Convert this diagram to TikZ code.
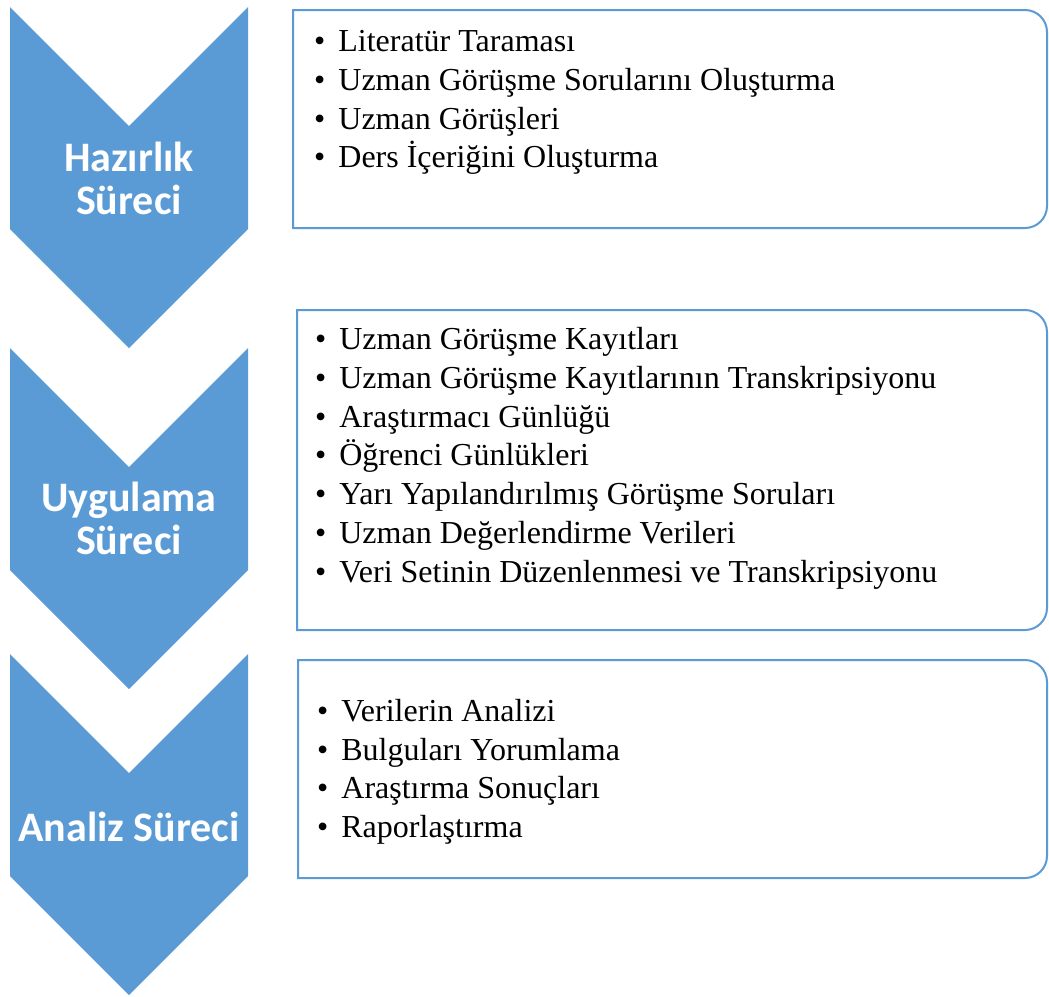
\documentclass[tikz,border=0pt]{standalone}
\usepackage{fontspec}
\setmainfont{Liberation Serif}
\newfontfamily\chevfont{Carlito}
\definecolor{accent}{HTML}{5B9BD5}
\tikzset{
  chevron/.style={fill=accent, draw=none},
  chevlabel/.style={text=white, font=\chevfont\bfseries\fontsize{42}{43}\selectfont, align=center, inner sep=0pt},
  listbox/.style={draw=accent, line width=2pt, fill=white},
  item/.style={anchor=base west, inner sep=0pt, font=\fontsize{32}{38}\selectfont},
}
\newcommand{\blt}{\textbullet\hspace{13pt}}
\begin{document}
\begin{tikzpicture}[x=1pt,y=1pt]
\useasboundingbox (0,0) rectangle (1049,-996);
% chevrons
\foreach \T/\nm in {7/c1,348/c2,654/c3}{
  \fill[chevron] (10,-\T) -- (129,-\T-119) -- (248,-\T) -- (248,-\T-222) -- (129,-\T-341) -- (10,-\T-222) -- cycle;
}
\node[chevlabel] (h1) at (129,-178) {Hazırlık\\Süreci};
\node[chevlabel] (h2) at (129,-518) {Uygulama\\Süreci};
\node[chevlabel] (h3) at (129,-827) {Analiz Süreci};
% boxes
\draw[listbox] (293,-10) -- (1025,-10) arc[start angle=90,end angle=0,radius=22] -- (1047,-206) arc[start angle=0,end angle=-90,radius=22] -- (293,-228) -- cycle;
\draw[listbox] (297,-310) -- (1025,-310) arc[start angle=90,end angle=0,radius=22] -- (1047,-608) arc[start angle=0,end angle=-90,radius=22] -- (297,-630) -- cycle;
\draw[listbox] (298,-660) -- (1025,-660) arc[start angle=90,end angle=0,radius=22] -- (1047,-856) arc[start angle=0,end angle=-90,radius=22] -- (298,-878) -- cycle;
% box 1 items
\node[item] (a1) at (314,-51) {\blt Literatür Taraması};
\node[item] (a2) at (314,-90) {\blt Uzman Görüşme Sorularını Oluşturma};
\node[item] (a3) at (314,-129) {\blt Uzman Görüşleri};
\node[item] (a4) at (314,-167) {\blt Ders İçeriğini Oluşturma};
% box 2 items
\node[item] (b1) at (315,-349) {\blt Uzman Görüşme Kayıtları};
\node[item] (b2) at (315,-388) {\blt Uzman Görüşme Kayıtlarının Transkripsiyonu};
\node[item] (b3) at (315,-427) {\blt Araştırmacı Günlüğü};
\node[item] (b4) at (315,-465) {\blt Öğrenci Günlükleri};
\node[item] (b5) at (315,-504) {\blt Yarı Yapılandırılmış Görüşme Soruları};
\node[item] (b6) at (315,-543) {\blt Uzman Değerlendirme Verileri};
\node[item] (b7) at (315,-582) {\blt Veri Setinin Düzenlenmesi ve Transkripsiyonu};
% box 3 items
\node[item] (d1) at (317,-721) {\blt Verilerin Analizi};
\node[item] (d2) at (317,-760) {\blt Bulguları Yorumlama};
\node[item] (d3) at (317,-798) {\blt Araştırma Sonuçları};
\node[item] (d4) at (317,-837) {\blt Raporlaştırma};
\end{tikzpicture}
\end{document}
